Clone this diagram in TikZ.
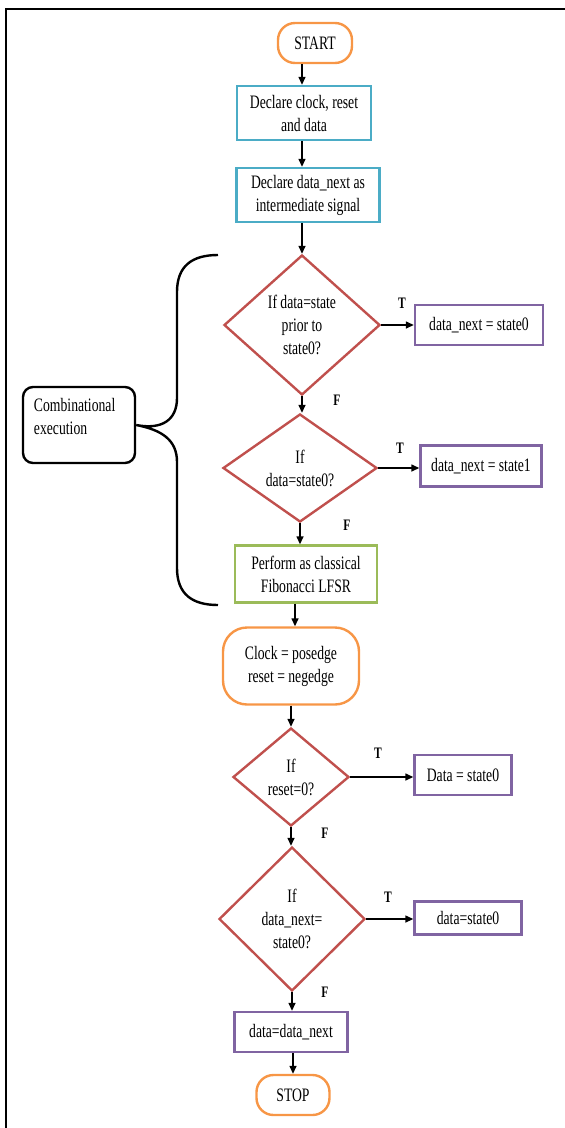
\documentclass[tikz,border=0pt]{standalone}
\usepackage{fontspec}
\setmainfont{Liberation Serif}[FakeStretch=0.72]
\usetikzlibrary{shapes.geometric,arrows.meta}
\definecolor{corange}{HTML}{F79646}
\definecolor{ccyan}{HTML}{4BACC6}
\definecolor{cred}{HTML}{C0504D}
\definecolor{cpurple}{HTML}{8064A2}
\definecolor{cgreen}{HTML}{9BBB59}
\begin{document}
\begin{tikzpicture}[x=1pt,y=-1pt,
  base/.style={font=\fontsize{19}{23}\selectfont, align=center, inner sep=0pt, line width=2.4pt},
  pill/.style={base, draw=corange, rounded corners=17pt},
  declbox/.style={base, draw=ccyan},
  decision/.style={base, draw=cred, shape=diamond},
  actbox/.style={base, draw=cpurple},
  fibbox/.style={base, draw=cgreen},
  combox/.style={base, draw=black, rounded corners=10pt},
  tf/.style={font=\bfseries\fontsize{16}{18}\selectfont, inner sep=0pt},
  arr/.style={line width=1.4pt, -{Triangle[length=8pt,width=7pt]}},
  brace/.style={line width=2.4pt}
]
\useasboundingbox (0,0) rectangle (565,1128);
\draw[line width=2.8pt] (6,1128) -- (6,9) -- (565,9);

% main column
\node[pill, minimum width=74pt, minimum height=40pt] (start) at (315,43) {START};
\node[declbox, minimum width=134pt, minimum height=54pt] (b1) at (304,113) {Declare clock, reset\\and data};
\node[declbox, minimum width=143pt, minimum height=54pt] (b2) at (308,195) {Declare data\_next as\\intermediate signal};
\node[decision, minimum width=156pt, minimum height=140pt] (d1) at (302,325) {If data=state\\prior to\\state0?};
\node[actbox, minimum width=128pt, minimum height=40pt] (a1) at (479,325) {data\_next = state0};
\node[decision, minimum width=154pt, minimum height=108pt] (d2) at (300,468) {If\\data=state0?};
\node[actbox, minimum width=121pt, minimum height=41pt] (a2) at (481,466) {data\_next = state1};
\node[fibbox, minimum width=142pt, minimum height=57pt] (fib) at (306,574) {Perform as classical\\Fibonacci LFSR};
\node[pill, rounded corners=24pt, minimum width=136pt, minimum height=77pt] (clk) at (291,666) {Clock = posedge\\reset = negedge};
\node[decision, minimum width=116pt, minimum height=98pt] (d3) at (291,777) {If\\reset=0?};
\node[actbox, minimum width=97pt, minimum height=40pt] (a3) at (463,775) {Data = state0};
\node[decision, minimum width=146pt, minimum height=144pt] (d4) at (292,919) {If\\data\_next=\\state0?};
\node[actbox, minimum width=107pt, minimum height=33pt] (a4) at (468,918) {data=state0};
\node[actbox, minimum width=113pt, minimum height=40pt] (last) at (291,1032) {data=data\_next};
\node[pill, minimum width=73pt, minimum height=40pt] (stop) at (293,1095) {STOP};

% combinational execution
\node[combox, minimum width=112pt, minimum height=76pt] (comb) at (79,425) {};
\node[base, align=left, anchor=north west] (combtxt) at ([xshift=11pt,yshift=-11pt]comb.north west) {Combinational\\execution};

% T / F labels
\node[tf] (t1) at (402,303) {T};
\node[tf] (t2) at (400,448) {T};
\node[tf] (t3) at (378,753) {T};
\node[tf] (t4) at (388,897) {T};
\node[tf] (f1) at (337,400) {F};
\node[tf] (f2) at (347,525) {F};
\node[tf] (f3) at (325,833) {F};
\node[tf] (f4) at (325,992) {F};

% connectors
\draw[arr] (start.south -| d1.north) -- (b1.north -| d1.north);
\draw[arr] (b1.south -| d1.north) -- (b2.north -| d1.north);
\draw[arr] (b2.south -| d1.north) -- (d1.north);
\draw[arr] (d1.east) -- (a1.west);
\draw[arr] (d1.south) -- (d2.north -| d1.south);
\draw[arr] (d2.east) -- (a2.west |- d2.east);
\draw[arr] (d2.south) -- (fib.north -| d2.south);
\draw[arr] (fib.south -| 295,0) -- (clk.north -| 295,0);
\draw[arr] (clk.south) -- (d3.north);
\draw[arr] (d3.east) -- (a3.west |- d3.east);
\draw[arr] (d3.south) -- (d4.north -| d3.south);
\draw[arr] (d4.east) -- (a4.west |- d4.east);
\draw[arr] (d4.south) -- (last.north -| d4.south);
\draw[arr] (last.south -| stop.north) -- (stop.north);

% brace
\coordinate (bt) at (218,255);
\coordinate (bb) at (218,605);
\draw[brace] (bt) .. controls (192,255) and (177,266) .. (177,292) -- (177,398)
  .. controls (177,420) and (162,430) .. (comb.east)
  .. controls (162,430) and (177,440) .. (177,462) -- (177,568)
  .. controls (177,594) and (192,605) .. (bb);
\end{tikzpicture}
\end{document}
